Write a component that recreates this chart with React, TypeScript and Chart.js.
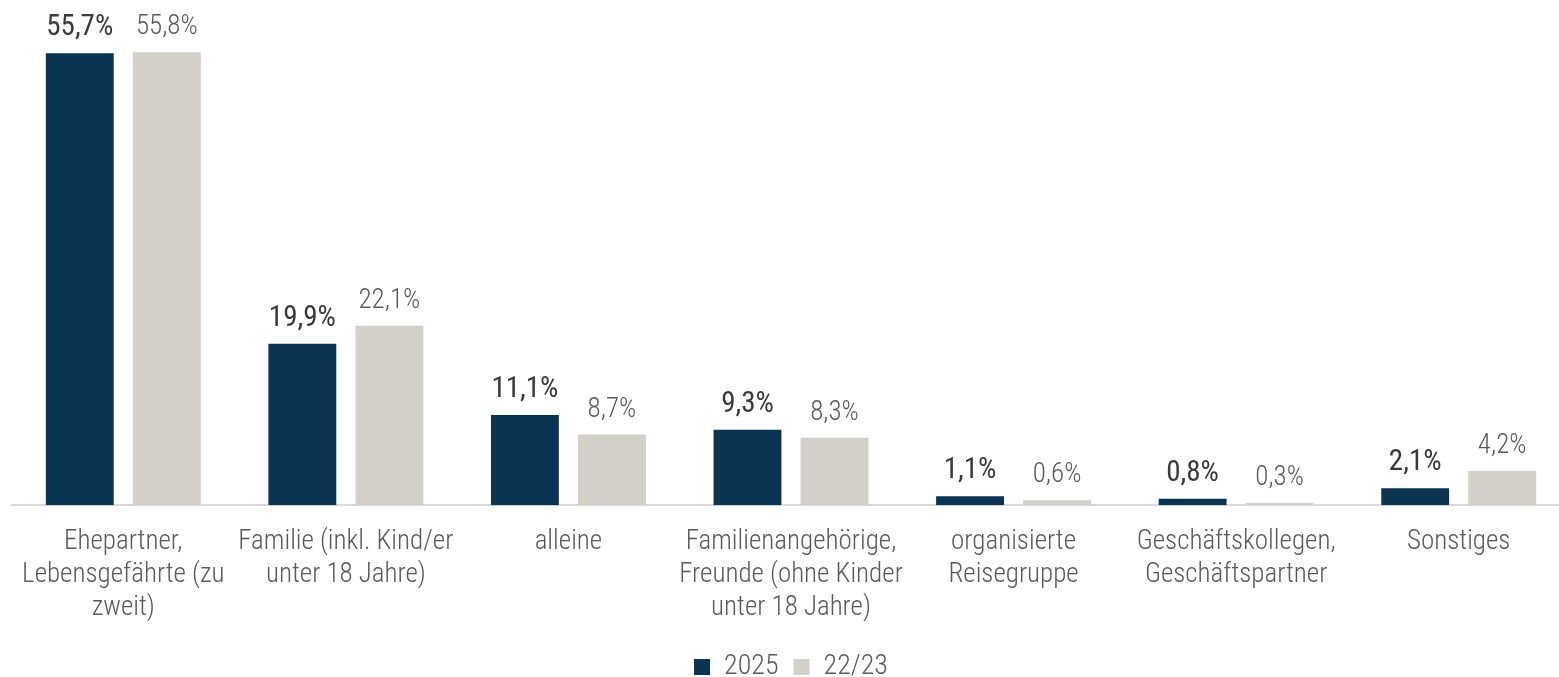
import React, { useEffect, useRef } from "react";
import { Chart, registerables } from "chart.js";

Chart.register(...registerables);

const categories: string[][] = [
  ["Ehepartner,", "Lebensgefährte (zu", "zweit)"],
  ["Familie (inkl. Kind/er", "unter 18 Jahre)"],
  ["alleine"],
  ["Familienangehörige,", "Freunde (ohne Kinder", "unter 18 Jahre)"],
  ["organisierte", "Reisegruppe"],
  ["Geschäftskollegen,", "Geschäftspartner"],
  ["Sonstiges"],
];
const series2025: number[] = [55.7, 19.9, 11.1, 9.3, 1.1, 0.8, 2.1];
const series2223: number[] = [55.8, 22.1, 8.7, 8.3, 0.6, 0.3, 4.2];
const seriesNames: string[] = ["2025", "22/23"];

const FONT = '"Roboto Condensed", "Liberation Sans Narrow", "DejaVu Sans Condensed", Roboto, sans-serif';

const valueLabels = {
  id: "valueLabels",
  afterDatasetsDraw(chart: any) {
    const ctx = chart.ctx;
    chart.data.datasets.forEach((ds: any, di: number) => {
      const meta = chart.getDatasetMeta(di);
      meta.data.forEach((el: any, i: number) => {
        const v = ds.data[i] as number;
        const txt = v.toFixed(1).replace(".", ",") + "%";
        ctx.save();
        ctx.textAlign = "center";
        ctx.textBaseline = "alphabetic";
        if (di === 0) {
          ctx.font = `400 29px ${FONT}`;
          ctx.fillStyle = "#3a3a3a";
        } else {
          ctx.font = `300 27px ${FONT}`;
          ctx.fillStyle = "#595959";
        }
        ctx.fillText(txt, el.x, el.y - 18);
        ctx.restore();
      });
    });
  },
};

export default function App() {
  const ref = useRef<HTMLCanvasElement | null>(null);
  useEffect(() => {
    document.body.style.margin = "0";
    document.body.style.overflow = "hidden";
    if (!ref.current) return;
    const chart = new Chart(ref.current, {
      type: "bar",
      data: {
        labels: categories,
        datasets: [
          {
            label: seriesNames[0],
            data: series2025,
            backgroundColor: "#0b3452",
            categoryPercentage: 0.782,
            barPercentage: 0.78,
          },
          {
            label: seriesNames[1],
            data: series2223,
            backgroundColor: "#d3cfc9",
            categoryPercentage: 0.782,
            barPercentage: 0.78,
          },
        ],
      },
      options: {
        animation: false,
        responsive: true,
        maintainAspectRatio: false,
        layout: { padding: { left: 12, right: 0, top: 0, bottom: 0 } },
        scales: {
          x: {
            grid: { display: false },
            border: { display: true, color: "#d9d9d9", width: 2 },
            ticks: {
              color: "#595959",
              font: { family: FONT, size: 27, weight: 300, lineHeight: 1.22 },
              padding: 13,
              maxRotation: 0,
              autoSkip: false,
            },
          },
          y: {
            display: false,
            min: 0,
            max: 62.25,
          },
        },
        plugins: {
          legend: {
            position: "bottom",
            labels: {
              boxWidth: 16,
              boxHeight: 16,
              color: "#595959",
              font: { family: FONT, size: 28, weight: 300 },
              padding: 15,
            },
          },
          tooltip: { enabled: false },
        },
      },
      plugins: [valueLabels],
    });
    return () => chart.destroy();
  }, []);
  return (
    <div style={{ position: "absolute", left: 0, top: 0, width: 1570, height: 691 }}>
      <canvas ref={ref} />
    </div>
  );
}
